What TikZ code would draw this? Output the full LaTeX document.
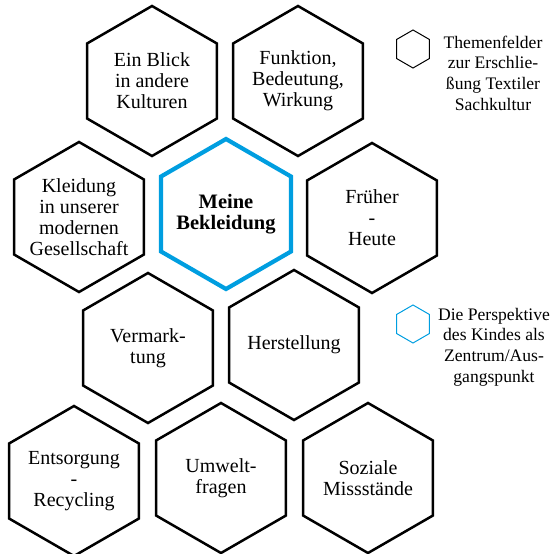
\documentclass[tikz,border=0pt]{standalone}
\usepackage{fontspec}
\setmainfont{Liberation Serif}
\definecolor{hexblue}{RGB}{0,158,224}
\begin{document}
\begin{tikzpicture}[x=1pt,y=-1pt,
  hexlabel/.style={align=center,inner sep=0pt,font=\fontsize{20}{20.9}\selectfont},
  legendlabel/.style={align=center,inner sep=0pt,font=\fontsize{17.6}{20.6}\selectfont},
  hexline/.style={draw=black,line width=2.5pt,line join=miter},
  hexcenter/.style={draw=hexblue,line width=4.2pt,line join=miter},
  legline/.style={line width=1pt,line join=miter}]
\useasboundingbox (0,0) rectangle (553,554);
\newcommand{\hexat}[3]{\draw[#1] (#2.center) ++(90:#3) -- ++(-30:#3) -- ++(-90:#3) -- ++(-150:#3) -- ++(150:#3) -- ++(90:#3) -- cycle;}
% row 1
\node[hexlabel] (blick) at (152,81) {Ein Blick\\in andere\\Kulturen};
\node[hexlabel] (funk) at (298,81) {Funktion,\\Bedeutung,\\Wirkung};
% row 2
\node[hexlabel] (kleid) at (79,217) {Kleidung\\in unserer\\modernen\\Gesellschaft};
\node[hexlabel,font=\fontsize{20.5}{21}\selectfont\bfseries] (meine) at (226,214) {Meine\\Bekleidung};
\node[hexlabel] (frueh) at (372,218) {Früher\\-\\Heute};
% row 3
\node[hexlabel] (verm) at (148,348) {Vermark-\\tung};
\node[hexlabel] (herst) at (294,345) {Herstellung};
% row 4
\node[hexlabel] (entsorg) at (74,481) {Entsorgung\\-\\Recycling};
\node[hexlabel] (umwelt) at (221,478) {Umwelt-\\fragen};
\node[hexlabel] (sozial) at (368,478) {Soziale\\Missstände};
% legend
\coordinate (leg1) at (413,49);
\coordinate (leg2) at (413,324);
\node[legendlabel] (legtext1) at (493,73) {Themenfelder\\zur Erschlie-\\ßung Textiler\\Sachkultur};
\node[legendlabel] (legtext2) at (494,347) {Die Perspektive\\des Kindes als\\Zentrum/Aus-\\gangspunkt};
% hexagons
\hexat{hexline}{blick}{75}
\hexat{hexline}{funk}{75}
\hexat{hexline}{kleid}{75}
\hexat{hexcenter}{meine}{75}
\hexat{hexline}{frueh}{75}
\hexat{hexline}{verm}{75}
\hexat{hexline}{herst}{75}
\hexat{hexline}{entsorg}{75}
\hexat{hexline}{umwelt}{75}
\hexat{hexline}{sozial}{75}
\draw[legline,draw=black] (leg1) ++(90:19) -- ++(-30:19) -- ++(-90:19) -- ++(-150:19) -- ++(150:19) -- ++(90:19) -- cycle;
\draw[legline,draw=hexblue] (leg2) ++(90:19) -- ++(-30:19) -- ++(-90:19) -- ++(-150:19) -- ++(150:19) -- ++(90:19) -- cycle;
\end{tikzpicture}
\end{document}
